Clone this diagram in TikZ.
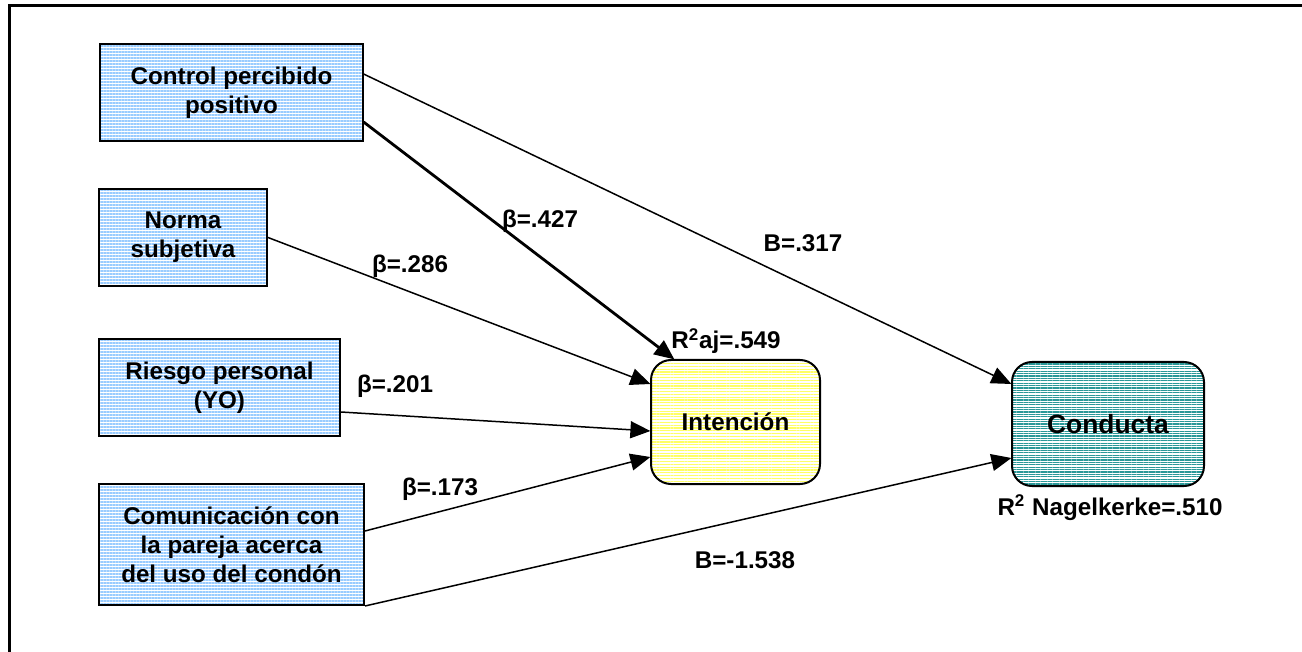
\documentclass[tikz,border=0pt]{standalone}
\usepackage{fontspec}
\setmainfont{Liberation Sans}
\usetikzlibrary{arrows.meta,patterns.meta}
\definecolor{stripeblue}{HTML}{99CCFF}
\definecolor{stripeyellow}{HTML}{FFFF66}
\definecolor{stripeteal}{HTML}{2A9898}
\begin{document}
\begin{tikzpicture}[
        x=0.5pt, y=-0.5pt,
        font=\bfseries\fontsize{12.1}{14.5}\selectfont,
        factor/.style={draw, line width=1pt, align=center, inner sep=0pt,
            pattern={Lines[distance=1.5pt,line width=0.6pt]}, pattern color=stripeblue},
        outcome/.style={draw, line width=1pt, rounded corners=10pt, inner sep=0pt,
            minimum width=#1, minimum height=62pt},
        path/.style={draw, line width=0.75pt, -{Triangle[length=10pt,width=8.5pt]}},
        coef/.style={inner sep=1pt},
        ]
    \fill[white] (0,0) rectangle (1302,652);
    \clip (0,0) rectangle (1302,652);
    \draw[line width=1.5pt] (9,6) rectangle (1330,680);

    % predictors
    \node (ctrl) [factor, minimum width=131.5pt, minimum height=48.5pt] at (231.5,92.5) {Control percibido\\positivo};
    \node (norma) [factor, minimum width=84pt, minimum height=48.5pt] at (183,237.5) {Norma\\subjetiva};
    \node (riesgo) [factor, minimum width=120.5pt, minimum height=48.5pt] at (219.5,387.5) {Riesgo personal\\(YO)};
    \node (comun) [factor, minimum width=132.5pt, minimum height=60.5pt] at (231.5,544.5) {Comunicación con\\la pareja acerca\\del uso del condón};

    % outcomes
    \node (intencion) [outcome=84.5pt, pattern={Lines[distance=1.4pt,line width=0.6pt]}, pattern color=stripeyellow] at (735.5,422) {Intención};
    \node (conducta) [outcome=96pt, pattern={Lines[distance=1.2pt,line width=0.6pt]}, pattern color=stripeteal,
        font=\bfseries\fontsize{13.2}{15}\selectfont] at (1108,424) {Conducta};

    \path[path] ([yshift=9.25pt]ctrl.east) -- ([yshift=20pt]conducta.west);
    \path[path, line width=1.4pt] ([yshift=-14.75pt]ctrl.east) -- ([xshift=12pt]intencion.north west);
    \path[path] (norma.east) -- ([yshift=19pt]intencion.west);
    \path[path] ([yshift=-12.25pt]riesgo.east) -- ([yshift=-4.5pt]intencion.west);
    \path[path] ([yshift=6.75pt]comun.east) -- ([yshift=-17.5pt]intencion.west);
    \path[path] (comun.south east) -- ([yshift=-17pt]conducta.west);

    % coefficients
    \node (b427) [coef] at (540,221) {β=.427};
    \node (b286) [coef] at (410,266) {β=.286};
    \node (b201) [coef] at (395,386) {β=.201};
    \node (b173) [coef] at (440,489) {β=.173};
    \node (b317) [coef] at (803,243) {B=.317};
    \node (b1538) [coef] at (745,560) {B=-1.538};
    \node (r2int) [coef] at (726,341) {R\textsuperscript{2}aj=.549};
    \node (r2cond) [coef] at (1110,508) {R\textsuperscript{2} Nagelkerke=.510};
\end{tikzpicture}
\end{document}
